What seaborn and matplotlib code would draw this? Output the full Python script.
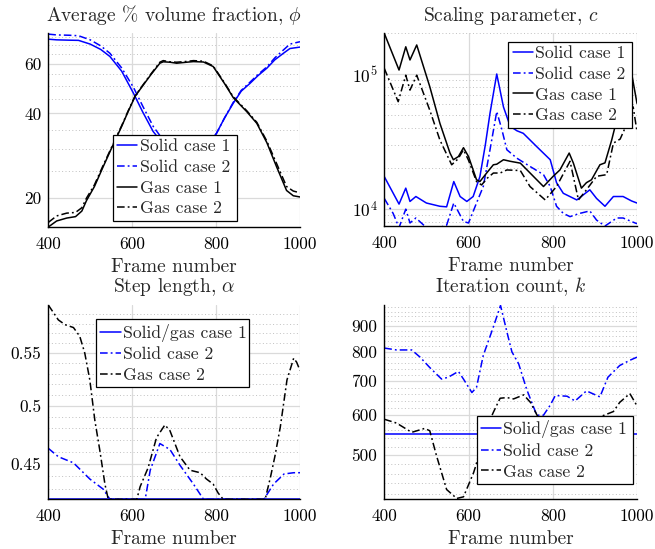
import numpy as np
import pandas as pd
import seaborn as sns
import matplotlib
matplotlib.use("Agg")
import matplotlib.pyplot as plt
from matplotlib.ticker import FixedLocator, LogLocator, NullFormatter, FixedFormatter, LogFormatterMathtext

# ---------------- data ----------------
# Panel 1: average % volume fraction
phi_solid1_x = [400, 420, 450, 472, 500, 525, 547, 575, 603, 625, 650, 675, 700, 730, 760, 780, 801, 820, 841, 860, 880, 900, 921, 940, 961, 976, 1000]
phi_solid1_y = [73.4, 73.0, 72.8, 72.7, 70.5, 67.5, 63.7, 56.5, 47.2, 40.5, 34.5, 31.0, 29.0, 28.0, 28.5, 30.5, 34.0, 38.5, 43.5, 48.0, 51.0, 54.5, 57.9, 62.0, 65.5, 68.0, 68.8]
phi_solid2_x = [400, 420, 450, 472, 500, 525, 547, 575, 603, 625, 650, 675, 700, 730, 760, 780, 801, 820, 841, 860, 880, 900, 921, 940, 961, 976, 1000]
phi_solid2_y = [76.5, 76.0, 75.8, 75.5, 73.0, 69.5, 65.4, 58.0, 49.5, 42.5, 36.0, 32.0, 29.5, 28.5, 29.0, 31.0, 34.0, 38.5, 43.8, 48.3, 51.5, 55.0, 58.5, 63.0, 67.3, 70.5, 71.9]
phi_gas1_x = [400, 420, 444, 465, 480, 491, 510, 530, 553, 575, 590, 607, 627, 645, 666, 674, 690, 706, 730, 746, 770, 793, 820, 841, 873, 897, 921, 944, 968, 984, 1000]
phi_gas1_y = [15.8, 16.6, 17.0, 17.2, 18.0, 19.6, 22.0, 25.7, 30.6, 36.0, 40.5, 46.0, 50.6, 55.0, 60.3, 61.0, 60.8, 60.3, 60.8, 61.1, 60.9, 58.7, 51.1, 45.5, 40.6, 36.9, 31.5, 25.9, 21.3, 20.4, 20.2]
phi_gas2_x = [400, 420, 444, 465, 480, 491, 510, 530, 553, 575, 590, 607, 627, 645, 666, 674, 690, 706, 730, 746, 770, 793, 820, 841, 873, 897, 921, 944, 968, 984, 1000]
phi_gas2_y = [16.4, 17.3, 17.7, 17.8, 18.5, 20.0, 22.3, 26.0, 30.8, 36.2, 40.7, 46.2, 50.8, 55.3, 60.8, 61.6, 61.0, 60.8, 61.2, 61.6, 61.3, 59.0, 51.4, 45.8, 40.9, 37.2, 31.9, 26.6, 22.0, 21.2, 20.9]

# Panel 2: scaling parameter c
c_solid1_x = [400, 435, 451, 461, 475, 500, 532, 548, 565, 580, 596, 611, 627, 640, 651, 667, 683, 699, 715, 730, 762, 794, 809, 825, 857, 888, 904, 924, 944, 967, 987, 1000]
c_solid1_y = [1.74e4, 1.09e4, 1.43e4, 1.14e4, 1.24e4, 1.11e4, 1.05e4, 1.04e4, 1.60e4, 1.24e4, 1.14e4, 1.24e4, 1.74e4, 3.0e4, 5.12e4, 1.0e5, 5.7e4, 4.1e4, 3.8e4, 3.64e4, 2.9e4, 2.32e4, 1.57e4, 1.31e4, 1.17e4, 1.39e4, 1.2e4, 1.05e4, 1.24e4, 1.24e4, 1.15e4, 1.11e4]
c_solid2_x = [400, 421, 435, 451, 461, 475, 500, 524, 548, 565, 588, 600, 619, 635, 651, 667, 679, 691, 715, 746, 778, 794, 809, 825, 841, 864, 888, 904, 924, 952, 967, 987, 1000]
c_solid2_y = [1.2e4, 9.3e3, 7.3e3, 1.0e4, 7.9e3, 8.6e3, 7.3e3, 7.2e3, 7.6e3, 1.11e4, 8.1e3, 7.9e3, 1.11e4, 1.47e4, 2.75e4, 5.27e4, 3.9e4, 2.75e4, 2.38e4, 2.07e4, 1.8e4, 1.47e4, 1.05e4, 9.3e3, 8.8e3, 9.3e3, 9.7e3, 8.3e3, 7.5e3, 8.6e3, 8.6e3, 8.1e3, 7.8e3]
c_gas1_x = [400, 435, 451, 461, 477, 508, 532, 556, 564, 576, 588, 600, 619, 627, 643, 659, 667, 683, 699, 723, 739, 762, 778, 801, 817, 839, 849, 868, 880, 892, 912, 924, 940, 955, 970, 987, 1000]
c_gas1_y = [2.0e5, 1.07e5, 1.59e5, 1.27e5, 1.64e5, 8.06e4, 4.32e4, 2.6e4, 2.32e4, 2.45e4, 2.85e4, 2.45e4, 1.65e4, 1.6e4, 1.85e4, 2.13e4, 2.15e4, 2.32e4, 2.26e4, 2.19e4, 1.95e4, 1.65e4, 1.47e4, 1.75e4, 1.95e4, 2.6e4, 2.19e4, 1.43e4, 1.57e4, 1.65e4, 2.13e4, 2.2e4, 3.25e4, 5.0e4, 7.5e4, 1.02e5, 6.07e4]
c_gas2_x = [400, 433, 451, 461, 477, 508, 532, 560, 575, 588, 600, 619, 631, 645, 659, 675, 691, 723, 746, 782, 809, 841, 861, 880, 904, 928, 944, 960, 975, 991, 1000]
c_gas2_y = [1.10e5, 6.24e4, 9.8e4, 7.6e4, 9.8e4, 5.4e4, 3.25e4, 2.13e4, 2.35e4, 2.75e4, 2.3e4, 1.60e4, 1.51e4, 1.7e4, 1.85e4, 1.85e4, 1.95e4, 1.93e4, 1.47e4, 1.17e4, 1.47e4, 2.26e4, 1.17e4, 1.39e4, 1.75e4, 1.8e4, 3.08e4, 3.3e4, 4.2e4, 5.7e4, 3.75e4]

# Panel 3: step length alpha
a_case1_x = [400, 1000]
a_case1_y = [0.4222, 0.4222]
a_solid2_x = [400, 424, 460, 499, 531, 547, 600, 631, 643, 666, 690, 714, 746, 770, 850, 914, 937, 962, 985, 1000]
a_solid2_y = [0.463, 0.456, 0.451, 0.438, 0.430, 0.4222, 0.4222, 0.4222, 0.445, 0.467, 0.462, 0.449, 0.434, 0.4222, 0.4222, 0.4222, 0.434, 0.442, 0.443, 0.443]
a_gas2_x = [400, 424, 440, 460, 475, 487, 499, 511, 523, 535, 543, 560, 590, 611, 619, 638, 658, 678, 690, 714, 738, 762, 777, 793, 805, 817, 850, 880, 917, 930, 940, 953, 969, 985, 992, 1000]
a_gas2_y = [0.600, 0.584, 0.579, 0.576, 0.567, 0.550, 0.524, 0.487, 0.461, 0.434, 0.4222, 0.4222, 0.4222, 0.4222, 0.432, 0.447, 0.472, 0.483, 0.478, 0.456, 0.445, 0.443, 0.438, 0.434, 0.427, 0.4222, 0.4222, 0.4222, 0.4222, 0.440, 0.456, 0.481, 0.524, 0.545, 0.541, 0.533]

# Panel 4: iteration count k
k_case1_x = [400, 1000]
k_case1_y = [550, 550]
k_solid2_x = [400, 429, 465, 485, 508, 536, 552, 576, 588, 608, 619, 635, 659, 676, 691, 703, 719, 738, 762, 778, 794, 806, 834, 853, 880, 912, 931, 959, 983, 1000]
k_solid2_y = [814, 807, 807, 781, 745, 707, 713, 732, 707, 665, 681, 787, 896, 988, 877, 800, 758, 675, 600, 600, 628, 656, 654, 640, 670, 652, 713, 752, 770, 781]
k_gas2_x = [400, 429, 465, 496, 508, 524, 548, 572, 588, 612, 617, 640, 659, 675, 691, 707, 731, 747, 765, 800, 850, 900, 944, 959, 983, 1000]
k_gas2_y = [589, 579, 555, 565, 559, 499, 428, 411, 414, 462, 476, 560, 608, 648, 650, 646, 658, 636, 595, 590, 585, 590, 610, 636, 662, 626]

titles = ["Average % volume fraction, $\\phi$", "Scaling parameter, $c$",
          "Step length, $\\alpha$", "Iteration count, $k$"]
xlabel = "Frame number"
xticks = [400, 600, 800, 1000]

# ---------------- style ----------------
sns.set_style("white")
plt.rcParams["font.family"] = ["serif"]
plt.rcParams["font.serif"] = ["cmr10", "DejaVu Serif"]
plt.rcParams["mathtext.fontset"] = "cm"
plt.rcParams["axes.unicode_minus"] = False
plt.rcParams["axes.formatter.use_mathtext"] = True

BLUE = "#0000ff"
BLACK = "#000000"
SOLID = "-"
DASHDOT = (0, (5, 2, 1.2, 2))
FS_TICK = 12.5
FS_TITLE = 14
FS_LEG = 12.7

fig = plt.figure(figsize=(6.55, 5.49), dpi=100)
positions = [
    [0.0737, 0.5865, 0.3843, 0.3528],
    [0.5867, 0.5883, 0.3858, 0.3510],
    [0.0737, 0.0905, 0.3843, 0.3540],
    [0.5867, 0.0911, 0.3858, 0.3534],
]
axes = [fig.add_axes(p) for p in positions]


def draw(ax, x, y, color, ls, label):
    df = pd.DataFrame({"frame": x, "value": y})
    sns.lineplot(data=df, x="frame", y="value", ax=ax, color=color,
                 linestyle=ls, linewidth=1.1, label=label, estimator=None, sort=False)


ax = axes[0]
draw(ax, phi_solid1_x, phi_solid1_y, BLUE, SOLID, "Solid case 1")
draw(ax, phi_solid2_x, phi_solid2_y, BLUE, DASHDOT, "Solid case 2")
draw(ax, phi_gas1_x, phi_gas1_y, BLACK, SOLID, "Gas case 1")
draw(ax, phi_gas2_x, phi_gas2_y, BLACK, DASHDOT, "Gas case 2")

ax = axes[1]
draw(ax, c_solid1_x, c_solid1_y, BLUE, SOLID, "Solid case 1")
draw(ax, c_solid2_x, c_solid2_y, BLUE, DASHDOT, "Solid case 2")
draw(ax, c_gas1_x, c_gas1_y, BLACK, SOLID, "Gas case 1")
draw(ax, c_gas2_x, c_gas2_y, BLACK, DASHDOT, "Gas case 2")

ax = axes[2]
draw(ax, a_case1_x, a_case1_y, BLUE, SOLID, "Solid/gas case 1")
draw(ax, a_solid2_x, a_solid2_y, BLUE, DASHDOT, "Solid case 2")
draw(ax, a_gas2_x, a_gas2_y, BLACK, DASHDOT, "Gas case 2")

ax = axes[3]
draw(ax, k_case1_x, k_case1_y, BLUE, SOLID, "Solid/gas case 1")
draw(ax, k_solid2_x, k_solid2_y, BLUE, DASHDOT, "Solid case 2")
draw(ax, k_gas2_x, k_gas2_y, BLACK, DASHDOT, "Gas case 2")

ylims = [(15.8, 77.0), (7.5e3, 2.0e5), (0.4222, 0.600), (410, 990)]
legend_boxes = [(0.256, 0.022, 0.495, 0.465), (0.491, 0.502, 0.488, 0.463),
                (0.189, 0.576, 0.609, 0.350), (0.365, 0.081, 0.620, 0.343)]

for i, ax in enumerate(axes):
    ax.set_yscale("log")
    ax.set_xlim(400, 1000)
    ax.set_ylim(*ylims[i])
    ax.set_xticks(xticks)
    ax.set_xticklabels([str(t) for t in xticks])
    ax.xaxis.set_minor_locator(FixedLocator([]))
    ax.set_title(titles[i], fontsize=FS_TITLE, pad=9)
    ax.set_xlabel(xlabel, fontsize=FS_TITLE, labelpad=4)
    ax.set_ylabel("")
    for s in ["top", "right"]:
        ax.spines[s].set_visible(False)
    for s in ["left", "bottom"]:
        ax.spines[s].set_color("black")
        ax.spines[s].set_linewidth(1.0)
    ax.tick_params(axis="both", which="both", direction="in", colors="black",
                   labelsize=FS_TICK)
    ax.tick_params(axis="x", which="major", pad=7)
    ax.tick_params(axis="y", which="major", pad=5)
    ax.tick_params(axis="both", which="major", length=4, width=0.8)
    ax.tick_params(axis="y", which="minor", length=2.5, width=0.6)
    ax.set_axisbelow(True)

# y tick locators
ax = axes[0]
ax.yaxis.set_major_locator(FixedLocator([20, 40, 60]))
ax.yaxis.set_major_formatter(FixedFormatter(["20", "40", "60"]))
ax.yaxis.set_minor_locator(FixedLocator([25, 30, 35, 45, 50, 55, 65, 70, 75]))
ax.yaxis.set_minor_formatter(NullFormatter())

ax = axes[1]
ax.yaxis.set_major_locator(FixedLocator([1e4, 1e5]))
ax.yaxis.set_major_formatter(LogFormatterMathtext())
ax.yaxis.set_minor_locator(LogLocator(base=10, subs=np.arange(2, 10), numticks=20))
ax.yaxis.set_minor_formatter(NullFormatter())

ax = axes[2]
ax.yaxis.set_major_locator(FixedLocator([0.45, 0.5, 0.55]))
ax.yaxis.set_major_formatter(FixedFormatter(["0.45", "0.5", "0.55"]))
ax.yaxis.set_minor_locator(FixedLocator([0.43, 0.44, 0.46, 0.47, 0.48, 0.49, 0.51, 0.52, 0.53, 0.54, 0.56, 0.57, 0.58, 0.59]))
ax.yaxis.set_minor_formatter(NullFormatter())

ax = axes[3]
ax.yaxis.set_major_locator(FixedLocator([500, 600, 700, 800, 900]))
ax.yaxis.set_major_formatter(FixedFormatter(["500", "600", "700", "800", "900"]))
ax.yaxis.set_minor_locator(FixedLocator([v for v in range(420, 1000, 20) if v % 100 != 0]))
ax.yaxis.set_minor_formatter(NullFormatter())

for i, ax in enumerate(axes):
    ax.grid(True, which="major", axis="both", color="#dadada", linewidth=0.9, linestyle="-")
    ax.grid(True, which="minor", axis="y", color="#c0c0c0", linewidth=0.7, linestyle=(0, (1, 2.5)))
    leg = ax.legend(loc="center", bbox_to_anchor=legend_boxes[i], mode="expand",
                    fontsize=FS_LEG, frameon=True, fancybox=False, framealpha=1.0,
                    edgecolor="black", handlelength=1.15, handletextpad=0.12,
                    borderpad=0.25, labelspacing=0.3, borderaxespad=0.0)
    leg.get_frame().set_linewidth(0.9)

fig.savefig("out.png", dpi=100)
